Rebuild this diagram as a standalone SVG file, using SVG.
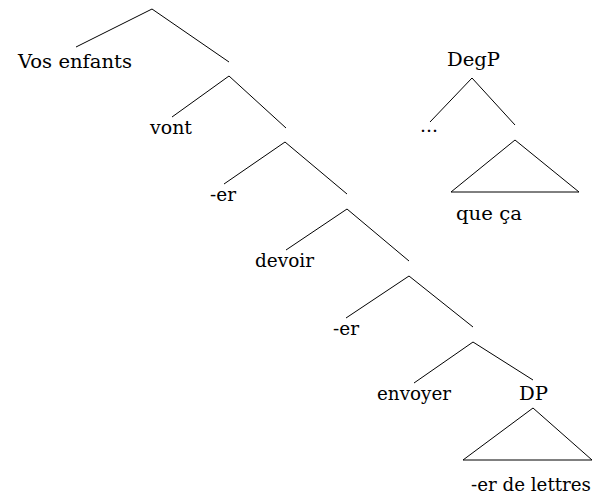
<svg xmlns="http://www.w3.org/2000/svg" width="592" height="495" viewBox="0 0 592 495">
  <style>
    .edge { stroke: #000; stroke-width: 1; fill: none; }
    .lbl { font-family: "DejaVu Serif", "Liberation Serif", serif; font-size: 18.5px; fill: #000; }
  </style>
  <rect width="592" height="495" fill="#fff"/>
  <g id="connectors">
    <path class="edge" d="M76,47 L152,9 L229,62"/>
    <path class="edge" d="M172,117 L229,76 L286,128"/>
    <path class="edge" d="M224,184 L285,142 L347,194"/>
    <path class="edge" d="M286,250 L347,209 L409,261"/>
    <path class="edge" d="M346,318 L409,276 L473,327"/>
    <path class="edge" d="M414,383 L473,342 L533,380"/>
    <path class="edge" d="M463,460 L533,408 L592,460 Z"/>
    <path class="edge" d="M430,122 L472,78 L515,125"/>
    <path class="edge" d="M451,192 L515,140 L579,192 Z"/>
  </g>
  <g id="n-vos-enfants"><text class="lbl" x="18" y="68" textLength="114" lengthAdjust="spacingAndGlyphs">Vos enfants</text></g>
  <g id="n-vont"><text class="lbl" x="150" y="134" textLength="42" lengthAdjust="spacingAndGlyphs">vont</text></g>
  <g id="n-er1"><text class="lbl" x="210" y="201" textLength="26" lengthAdjust="spacingAndGlyphs">-er</text></g>
  <g id="n-devoir"><text class="lbl" x="255" y="267" textLength="59" lengthAdjust="spacingAndGlyphs">devoir</text></g>
  <g id="n-er2"><text class="lbl" x="333" y="335" textLength="26" lengthAdjust="spacingAndGlyphs">-er</text></g>
  <g id="n-envoyer"><text class="lbl" x="377" y="400" textLength="74" lengthAdjust="spacingAndGlyphs">envoyer</text></g>
  <g id="n-dp"><text class="lbl" x="519" y="400" textLength="29" lengthAdjust="spacingAndGlyphs">DP</text></g>
  <g id="n-dp-content"><text class="lbl" x="471" y="491" textLength="120" lengthAdjust="spacingAndGlyphs">-er de lettres</text></g>
  <g id="n-degp"><text class="lbl" x="447" y="66" textLength="53" lengthAdjust="spacingAndGlyphs">DegP</text></g>
  <g id="n-dots"><text class="lbl" x="420" y="132" textLength="18" lengthAdjust="spacingAndGlyphs">...</text></g>
  <g id="n-que-ca"><text class="lbl" x="456" y="220" textLength="66" lengthAdjust="spacingAndGlyphs">que ça</text></g>
</svg>
